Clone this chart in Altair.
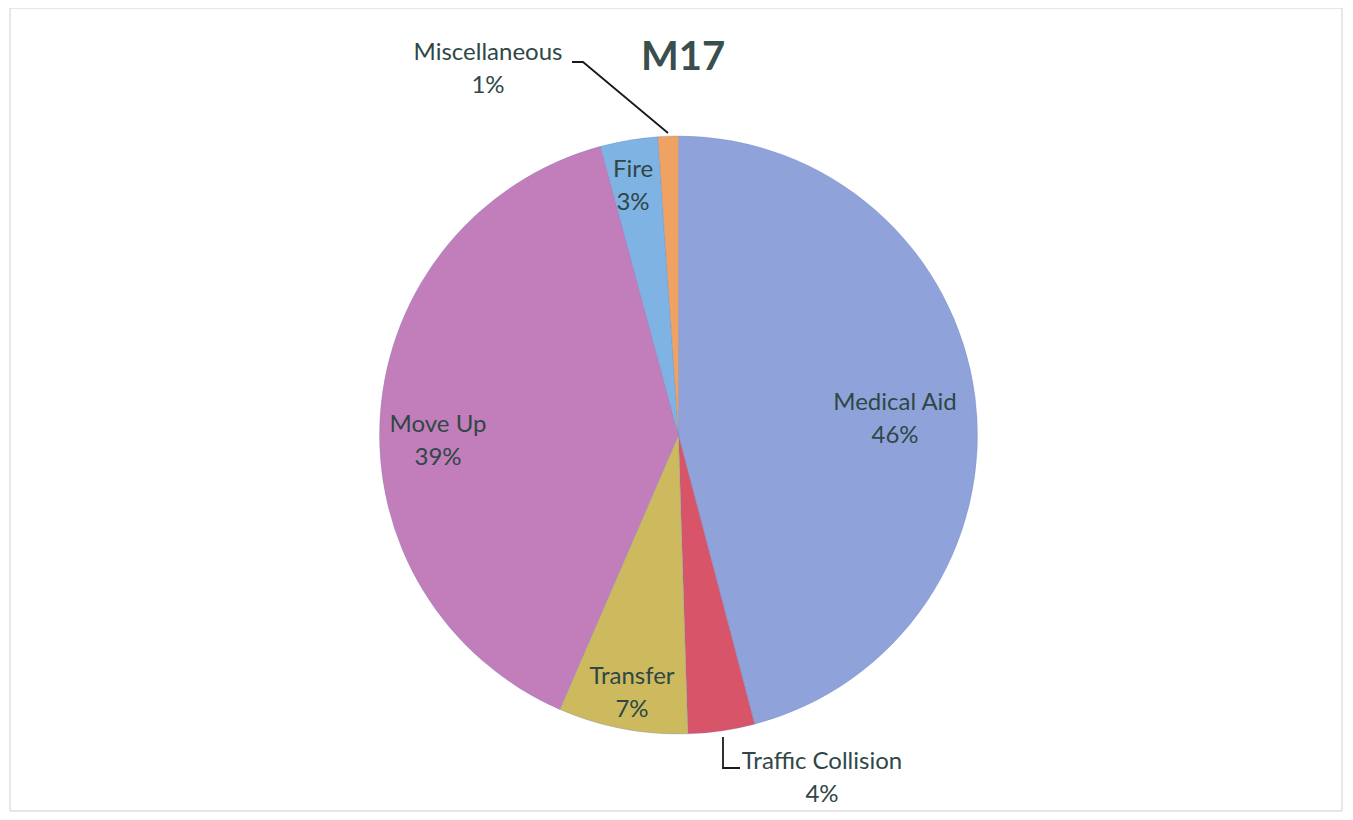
import altair as alt
import pandas as pd

# ---- data ----
categories = ["Medical Aid", "Traffic Collision", "Transfer", "Move Up", "Fire", "Miscellaneous"]
values = [45.9, 3.6, 7.0, 39.3, 3.1, 1.1]
title_text = "M17"

# ---- styling / layout ----
colors = ["#8FA3DA", "#D85468", "#CDBA5E", "#C27EBA", "#7FB3E3", "#F0A262"]
W, H = 1337, 804
CX, CY, R = 670.5, 427, 299
# label anchor (centre of first line) in chart pixels, per category
label_pos = {
    "Medical Aid": (887, 395),
    "Traffic Collision": (814, 754),
    "Transfer": (624, 669),
    "Move Up": (430, 417),
    "Fire": (625, 162),
    "Miscellaneous": (480, 45),
}
LINE_GAP = 33
TEXT_COLOR = "#2F4747"
FONT = "Lato"

pie_df = pd.DataFrame({"category": categories, "value": values, "idx": range(len(categories))})

lab_rows = []
for c, v in zip(categories, values):
    x, y = label_pos[c]
    lab_rows.append({"category": c, "x": x, "y": y, "text": c})
    lab_rows.append({"category": c, "x": x, "y": y + LINE_GAP, "text": f"{round(v)}%"})
lab_df = pd.DataFrame(lab_rows)

# leader lines (annotation geometry)
lead_df = pd.DataFrame({
    "line": ["misc"] * 3 + ["traffic"] * 3,
    "o": [0, 1, 2, 0, 1, 2],
    "x": [564, 575, 660, 715, 715, 732],
    "y": [54, 54, 125, 729, 760, 760],
})

frame_df = pd.DataFrame({"x": [2], "y": [0], "x2": [1334], "y2": [803]})

color_scale = alt.Scale(domain=categories, range=colors)

frame = alt.Chart(frame_df).mark_rect(fill=None, stroke="#CFCFCF", strokeWidth=1).encode(
    x=alt.X("x:Q", scale=None, axis=None),
    y=alt.Y("y:Q", scale=None, axis=None),
    x2="x2:Q",
    y2="y2:Q",
)

pie = alt.Chart(pie_df).mark_arc(outerRadius=R, stroke="#6F7FB8", strokeWidth=0.6, strokeOpacity=0.5).encode(
    theta=alt.Theta("value:Q", stack=True),
    color=alt.Color("category:N", scale=color_scale, legend=None),
    order=alt.Order("idx:Q"),
    x=alt.value(CX),
    y=alt.value(CY),
)

labels = alt.Chart(lab_df).mark_text(
    font=FONT, fontSize=24, color=TEXT_COLOR, align="center", baseline="middle"
).encode(
    x=alt.X("x:Q", scale=None, axis=None),
    y=alt.Y("y:Q", scale=None, axis=None),
    text="text:N",
)

leaders = alt.Chart(lead_df).mark_line(color="#1A1A1A", strokeWidth=1.8).encode(
    x=alt.X("x:Q", scale=None, axis=None),
    y=alt.Y("y:Q", scale=None, axis=None),
    detail="line:N",
    order="o:Q",
)

title = alt.Chart(pd.DataFrame({"t": [title_text]})).mark_text(
    font=FONT, fontSize=40, fontWeight="bold", color="#3A4E4E", align="center", baseline="middle"
).encode(
    x=alt.value(675),
    y=alt.value(50),
    text="t:N",
)

chart = alt.layer(frame, pie, leaders, labels, title).properties(
    width=W, height=H, padding=0, autosize=alt.AutoSizeParams(type="none")
).configure_view(stroke=None)

chart.save("out.html", embed_options={"renderer": "svg", "actions": False})
